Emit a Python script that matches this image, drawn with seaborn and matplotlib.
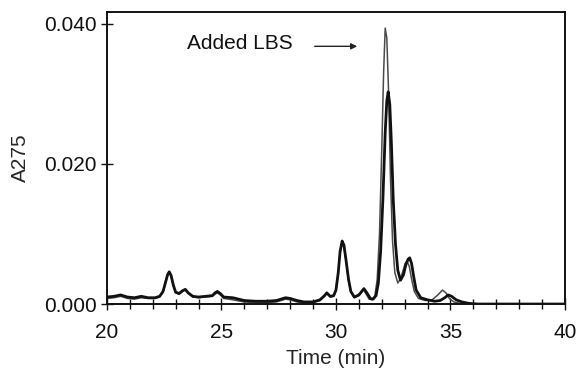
import pandas as pd
import matplotlib.pyplot as plt
import seaborn as sns
from matplotlib.ticker import MultipleLocator

# Trace without added LBS (thick line)
time_a = [20.0, 20.3, 20.6, 20.9, 21.2, 21.5, 21.8, 22.1, 22.3, 22.45, 22.55, 22.65, 22.72,
          22.8, 22.9, 23.0, 23.15, 23.3, 23.42, 23.55, 23.75, 24.0, 24.3, 24.6, 24.72, 24.82,
          24.95, 25.1, 25.5, 26.0, 26.5, 27.0, 27.4, 27.6, 27.8, 28.0, 28.3, 28.6, 29.0, 29.3,
          29.5, 29.6, 29.75, 29.9, 30.0, 30.1, 30.18, 30.27, 30.35, 30.45, 30.55, 30.65, 30.8,
          31.0, 31.1, 31.22, 31.35, 31.5, 31.62, 31.75, 31.85, 31.95, 32.05, 32.15, 32.22, 32.28,
          32.35, 32.42, 32.5, 32.6, 32.7, 32.82, 32.95, 33.05, 33.15, 33.22, 33.3, 33.4, 33.5,
          33.7, 34.0, 34.3, 34.55, 34.75, 34.9, 35.05, 35.25, 35.5, 35.8, 36.2, 37.0, 38.0,
          39.0, 40.0]
abs_a = [0.0010, 0.0011, 0.0013, 0.0010, 0.0009, 0.0011, 0.0009, 0.0009, 0.0011, 0.0018,
         0.0030, 0.0042, 0.0046, 0.0041, 0.0027, 0.0017, 0.0015, 0.0019, 0.0021, 0.0016,
         0.0011, 0.0010, 0.0011, 0.0012, 0.0016, 0.0018, 0.0015, 0.0010, 0.0009, 0.0005,
         0.0004, 0.0004, 0.0005, 0.0007, 0.0009, 0.0008, 0.0005, 0.0003, 0.0003, 0.0006,
         0.0012, 0.0016, 0.0011, 0.0012, 0.0020, 0.0045, 0.0075, 0.0090, 0.0084, 0.0060,
         0.0035, 0.0018, 0.0010, 0.0013, 0.0017, 0.0022, 0.0016, 0.0008, 0.0007, 0.0012,
         0.0030, 0.0075, 0.0150, 0.0245, 0.0290, 0.0303, 0.0285, 0.0230, 0.0150, 0.0085,
         0.0048, 0.0034, 0.0042, 0.0056, 0.0064, 0.0066, 0.0058, 0.0038, 0.0020, 0.0009,
         0.0006, 0.0004, 0.0005, 0.0009, 0.0013, 0.0011, 0.0006, 0.0003, 0.0001, 0.0000,
         0.0000, 0.0000, 0.0000, 0.0000]

# Trace with added LBS (thin line)
time_b = [20.0, 20.3, 20.6, 20.9, 21.2, 21.5, 21.8, 22.1, 22.3, 22.45, 22.55, 22.65, 22.72,
          22.8, 22.9, 23.0, 23.15, 23.3, 23.42, 23.55, 23.75, 24.0, 24.3, 24.6, 24.72, 24.82,
          24.95, 25.1, 25.5, 26.0, 26.5, 27.0, 27.4, 27.6, 27.8, 28.0, 28.3, 28.6, 29.0, 29.3,
          29.5, 29.6, 29.75, 29.9, 30.0, 30.1, 30.18, 30.27, 30.35, 30.45, 30.55, 30.65, 30.8,
          31.0, 31.1, 31.2, 31.32, 31.45, 31.58, 31.7, 31.8, 31.9, 32.0, 32.08, 32.15, 32.22,
          32.3, 32.38, 32.47, 32.57, 32.7, 32.82, 32.95, 33.02, 33.1, 33.2, 33.3, 33.42, 33.6,
          33.9, 34.2, 34.45, 34.65, 34.8, 34.95, 35.15, 35.4, 35.7, 36.1, 37.0, 38.0, 39.0,
          40.0]
abs_b = [0.0008, 0.0009, 0.0011, 0.0008, 0.0007, 0.0009, 0.0008, 0.0008, 0.0010, 0.0017,
         0.0029, 0.0041, 0.0045, 0.0040, 0.0026, 0.0016, 0.0014, 0.0018, 0.0020, 0.0015,
         0.0010, 0.0009, 0.0010, 0.0011, 0.0014, 0.0016, 0.0013, 0.0008, 0.0006, 0.0003,
         0.0002, 0.0002, 0.0003, 0.0005, 0.0007, 0.0006, 0.0003, 0.0002, 0.0002, 0.0005,
         0.0011, 0.0015, 0.0010, 0.0011, 0.0019, 0.0044, 0.0074, 0.0089, 0.0083, 0.0059,
         0.0034, 0.0017, 0.0009, 0.0012, 0.0016, 0.0021, 0.0014, 0.0007, 0.0006, 0.0012,
         0.0035, 0.0100, 0.0220, 0.0330, 0.0394, 0.0380, 0.0300, 0.0180, 0.0090, 0.0045,
         0.0030, 0.0036, 0.0050, 0.0058, 0.0061, 0.0054, 0.0036, 0.0018, 0.0008, 0.0005,
         0.0006, 0.0013, 0.0020, 0.0016, 0.0008, 0.0003, 0.0001, 0.0000, 0.0000, 0.0000,
         0.0000, 0.0000, 0.0000]

sns.set_style("ticks")
plt.rcParams['font.family'] = ['Liberation Sans', 'DejaVu Sans']

fig = plt.figure(figsize=(5.78, 3.81), dpi=100)
ax = fig.add_axes([0.185, 0.202, 0.7925, 0.7665])

df_a = pd.DataFrame({"time": time_a, "A275": abs_a})
df_b = pd.DataFrame({"time": time_b, "A275": abs_b})
sns.lineplot(data=df_b, x="time", y="A275", ax=ax, color="#4a4a4a", lw=1.1)
sns.lineplot(data=df_a, x="time", y="A275", ax=ax, color="#111111", lw=2.0)

ax.set_xlim(20, 40)
ax.set_ylim(0, 0.0417)
ax.xaxis.set_major_locator(MultipleLocator(5))
ax.xaxis.set_minor_locator(MultipleLocator(1))
ax.set_yticks([0.0, 0.02, 0.04])
ax.set_yticklabels(["0.000", "0.020", "0.040"])
ax.tick_params(axis="both", which="both", direction="inout", width=1.0, colors="#111111")
ax.tick_params(axis="x", which="major", length=9, labelsize=15, pad=9)
ax.tick_params(axis="x", which="minor", length=7)
ax.tick_params(axis="y", which="major", length=9, labelsize=15, pad=3)
for side in ax.spines.values():
    side.set_visible(True)
    side.set_linewidth(1.4)
    side.set_color("#111111")

ax.set_xlabel("Time (min)", fontsize=15, labelpad=5)
ax.set_ylabel("A275", fontsize=15, labelpad=10)

ax.annotate("", xy=(31.05, 0.0368), xytext=(28.95, 0.0368),
            arrowprops=dict(arrowstyle="-|>", color="#222222", lw=1.0, mutation_scale=9))
ax.text(23.5, 0.0372, "Added LBS", fontsize=15, va="center", ha="left", color="#111111")

plt.savefig("out.png", dpi=100)
